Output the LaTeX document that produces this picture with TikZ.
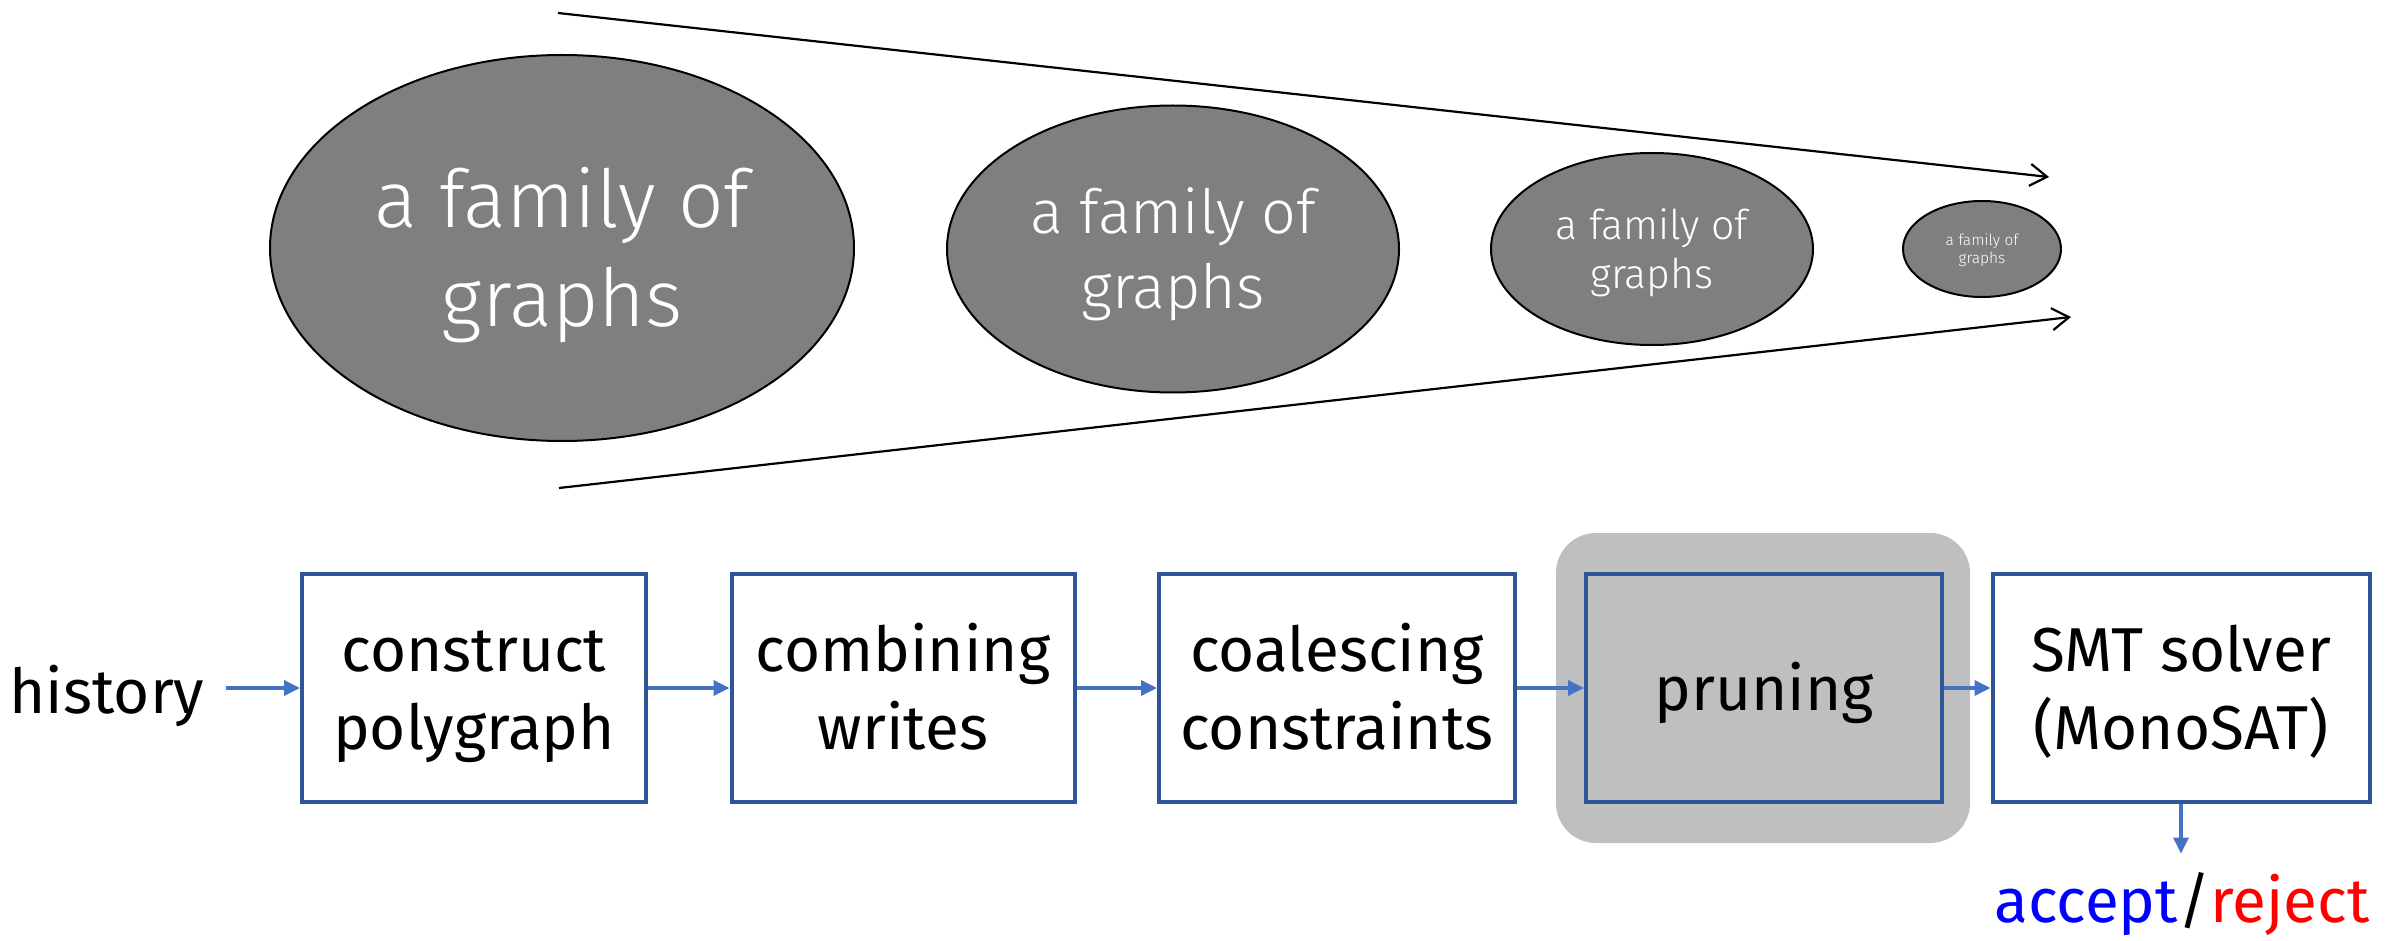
\documentclass[tikz,border=0pt]{standalone}
\usepackage{fontspec}
\setmainfont{Fira Sans}
\newfontfamily\lightfont{Fira Sans}[UprightFont=* Light]
\usetikzlibrary{arrows.meta,shapes.geometric}

\definecolor{boxblue}{HTML}{2F5597}
\definecolor{flowblue}{HTML}{4472C4}
\definecolor{graphgray}{HTML}{7F7F7F}
\definecolor{hilite}{HTML}{BFBFBF}
\definecolor{acceptblue}{HTML}{0000FF}
\definecolor{rejectred}{HTML}{FF0000}

\newcommand\bxfont{\fontsize{31pt}{39pt}\selectfont}
% line strut: centres text blocks on font metrics rather than on glyphs
\newcommand\lnstrut{\rule[-0.21em]{0pt}{1.15em}}

\tikzset{
  family/.style={ellipse, draw=black, line width=1pt, fill=graphgray,
    text=white, inner sep=0pt, align=center, font=\lightfont},
  stage/.style={rectangle, draw=boxblue, line width=2pt, fill=white,
    minimum height=114pt, inner sep=0pt, align=center, font=\bxfont},
  flow/.style={draw=flowblue, line width=1.75pt,
    -{Triangle[length=8pt,width=7.5pt]}},
  funnel/.style={draw=black, line width=1.1pt,
    -{Straight Barb[length=8.5pt,width=11pt,line width=1.1pt]}},
}

\begin{document}
\begin{tikzpicture}[x=0.5pt,y=-0.5pt]
\useasboundingbox (0,0) rectangle (2395,941);

% shrinking families of graphs
\node[family, minimum width=292pt, minimum height=193pt,
  font=\lightfont\fontsize{40pt}{49.5pt}\selectfont] (g1) at (562,248)
  {\lnstrut a family of\\\lnstrut graphs};
\node[family, minimum width=226pt, minimum height=143.5pt,
  font=\lightfont\fontsize{30.5pt}{37.5pt}\selectfont] (g2) at (1173,249)
  {\lnstrut a family of\\\lnstrut graphs};
\node[family, minimum width=161pt, minimum height=96pt,
  font=\lightfont\fontsize{20.5pt}{24.5pt}\selectfont] (g3) at (1652,249)
  {\lnstrut a family of\\\lnstrut graphs};
\node[family, minimum width=79pt, minimum height=48pt,
  font=\lightfont\fontsize{7.75pt}{9pt}\selectfont] (g4) at (1982,249)
  {\lnstrut a family of\\\lnstrut graphs};

% funnel lines
\coordinate (ftopA) at (558,13);
\coordinate (ftopB) at (2049,177);
\coordinate (fbotA) at (559,488);
\coordinate (fbotB) at (2071,317);
\draw[funnel] (ftopA) -- (ftopB);
\draw[funnel] (fbotA) -- (fbotB);

% highlight behind the pruning stage
\node[fill=hilite, rounded corners=20pt, minimum width=207pt,
  minimum height=155pt, inner sep=0pt] (pbg) at (1763,688) {};

% pipeline stages
\node[font=\bxfont, anchor=base, inner xsep=10.5pt] (hist) at (107,713) {history};
\node[stage, minimum width=172pt] (s1) at (474,688)
  {\lnstrut construct\\\lnstrut polygraph};
\node[stage, minimum width=171.5pt] (s2) at (903,688)
  {\lnstrut combining\\\lnstrut writes};
\node[stage, minimum width=178pt] (s3) at (1337,688)
  {\lnstrut coalescing\\\lnstrut constraints};
\node[stage, minimum width=178pt, fill=hilite] (s4) at (1764,688)
  {\lnstrut pruning};
\node[stage, minimum width=188.5pt] (s5) at (2181,688)
  {\lnstrut SMT solver\\\lnstrut (MonoSAT)};
\node[font=\bxfont, anchor=base, inner ysep=9pt] (res) at (2182,922)
  {\textcolor{acceptblue}{accept}/\textcolor{rejectred}{reject}};

\draw[flow] (hist.east |- s1.west) -- (s1.west);
\draw[flow] (s1.east) -- (s2.west);
\draw[flow] (s2.east) -- (s3.west);
\draw[flow] (s3.east) -- (s4.west);
\draw[flow] (s4.east) -- (s5.west);
\draw[flow] (s5.south) -- (res.north -| s5.south);
\end{tikzpicture}
\end{document}
